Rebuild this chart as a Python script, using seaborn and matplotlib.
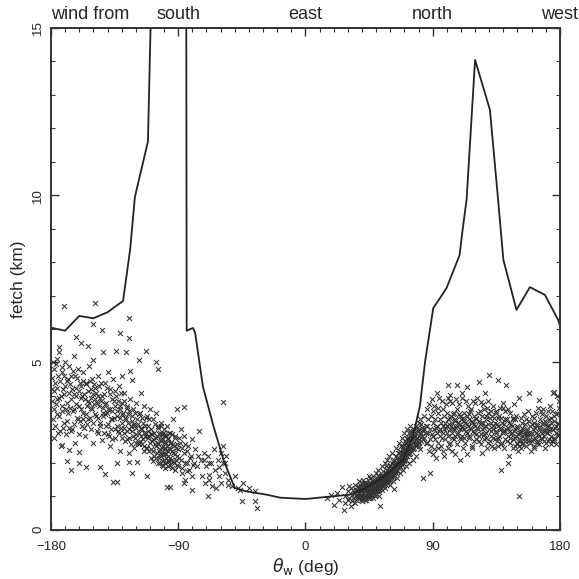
import numpy as np
import pandas as pd
import matplotlib
matplotlib.use("Agg")
import matplotlib.pyplot as plt
import matplotlib.transforms as mtransforms
from matplotlib.ticker import MultipleLocator
import seaborn as sns

# fetch along the shoreline as a function of wind direction
fetch_deg = [-180, -170, -160, -150, -140, -129, -124, -120.6, -111.4, -109, -100, -85, -84,
             -79.5, -78, -72.5, -65, -58, -50, -42, -27.5, -18, 0, 17, 31.5, 43, 57, 69, 76,
             81, 84.5, 90.4, 99.8, 109, 111.6, 114, 120, 130.5, 136.3, 140, 149.3, 158.8,
             169.4, 178.8, 180]
fetch_km = [6.04, 5.95, 6.39, 6.32, 6.5, 6.84, 8.37, 9.95, 11.6, 16.0, 40.0, 40.0, 5.95,
            6.03, 5.88, 4.28, 3.09, 2.09, 1.25, 1.15, 1.05, 0.96, 0.92, 0.99, 1.05, 1.25,
            1.64, 2.09, 2.79, 3.7, 4.98, 6.62, 7.22, 8.2, 9.1, 9.86, 14.04, 12.55, 9.86,
            8.07, 6.57, 7.25, 7.02, 6.27, 6.1]

# observed points, wind direction -> list of fetch values
south_cloud = {
    -179: [4.2], -178: [3.6, 4.8], -177: [3.1, 4.4], -176: [5.1, 3.9], -175: [2.9, 4.6],
    -174: [3.4, 5.3], -173: [4.0, 2.5], -172: [4.7, 3.7, 2.54], -171: [6.69, 3.2],
    -170: [4.3, 5.0], -169: [2.06, 3.8], -168: [4.5, 3.5], -167: [2.39, 4.9],
    -166: [1.79, 3.9], -165: [4.2, 3.0], -164: [5.2, 3.6], -163: [2.59, 4.6],
    -162: [5.75, 4.0], -161: [3.3, 4.8], -160: [2.31, 3.7, 1.99], -159: [5.58, 4.3],
    -158: [3.1, 4.0], -157: [4.7, 3.5], -156: [3.9, 2.8], -155: [1.89, 4.4],
    -154: [5.5, 3.3], -153: [3.8, 4.9], -152: [3.0, 4.2], -151: [3.6, 4.5],
    -150: [6.15, 5.08, 2.59], -149: [6.77, 3.9], -148: [4.1, 3.4], -147: [4.6, 2.9],
    -146: [3.7, 4.3], -145: [1.89, 3.2], -144: [5.98, 2.69, 4.0], -143: [5.31, 3.5],
    -142: [4.4, 1.67], -141: [3.8, 3.1], -140: [4.7, 3.6], -139: [2.8], -138: [2.49, 4.2],
    -137: [3.9, 3.3], -136: [1.44, 4.5], -135: [3.0, 3.7], -134: [5.35, 4.0],
    -133: [1.99, 3.4, 1.44], -132: [2.9, 4.3], -131: [5.88, 2.34, 3.6],
    -130: [3.8, 4.6, 3.2], -129: [3.5], -128: [2.9, 4.1], -127: [5.3, 3.3],
    -126: [3.7, 2.7], -125: [6.34, 5.73, 2.04, 3.0, 2.29], -124: [4.75, 3.9],
    -123: [4.48, 1.69, 3.4], -122: [2.8, 3.6], -121: [3.1], -120: [2.6, 3.8],
    -119: [2.04, 3.3], -118: [5.06, 2.9], -117: [2.64, 3.5], -116: [3.0, 4.1],
    -115: [2.7, 3.2], -114: [2.5, 3.7], -113: [5.33, 2.9], -112: [1.61, 2.44, 3.4],
    -111: [2.8, 3.1], -110: [2.6, 3.6], -109: [2.4, 3.0], -108: [2.7, 3.3],
    -107: [2.2, 2.9], -106: [2.5, 3.5, 5.0], -105: [2.8, 2.3], -104: [4.8, 3.1, 2.6],
    -103: [2.0, 2.9, 2.4], -102: [2.7, 3.2, 2.2], -101: [2.5, 2.9, 1.9],
    -100: [2.3, 2.6, 3.0, 2.1], -99: [2.4, 2.8, 2.0], -98: [1.29, 2.5, 3.1],
    -97: [2.2, 2.7, 1.9], -96: [1.29, 2.4, 2.9], -95: [2.1, 2.6], -94: [2.3, 3.3],
    -93: [2.0, 2.5], -92: [2.8, 1.8], -91: [2.2, 3.6], -90: [2.4, 1.9], -89: [2.6],
    -88: [2.1, 3.0], -87: [1.7], -86: [2.3, 2.8, 3.68, 1.39], -85: [1.5], -84: [2.0],
    -83: [2.5], -82: [1.8], -81: [2.2], -80: [1.6, 2.7, 1.2], -79: [2.0], -78: [2.4],
    -77: [1.9], -76: [2.2], -75: [2.94], -74: [2.1], -73: [1.6], -72: [2.3, 2.09],
    -71: [1.4], -70: [1.9], -69: [2.2, 1.0], -68: [1.5, 1.64, 1.99], -67: [2.0],
    -66: [1.3], -65: [2.4], -64: [1.8], -63: [1.25], -62: [2.1], -61: [1.6, 1.89],
    -60: [1.4, 2.3], -58: [3.83, 2.49, 2.0], -57: [1.7, 1.99], -56: [2.2],
    -55: [1.34, 1.5], -52: [1.3], -50: [1.6], -48: [1.25], -46: [1.2], -45: [0.85],
    -44: [1.4], -40: [1.25], -36: [0.85, 1.15], -34: [0.65],
}

# denser core of the southern cloud
south_core = {
    -179.5: [3.85, 4.55], -178.5: [3.3, 5.0], -177.5: [4.15, 2.75], -176.5: [3.75, 4.95],
    -175.5: [3.45, 4.25], -174.5: [3.95, 5.45], -173.5: [4.45, 2.95], -172.5: [3.55, 4.85],
    -171.5: [4.2, 3.05], -170.5: [4.05, 4.6], -169.5: [3.6, 2.85], -168.5: [4.45, 3.25],
    -167.5: [3.05, 4.1], -166.5: [3.65, 4.35], -165.5: [4.6, 2.95], -164.5: [3.55, 4.75],
    -163.5: [4.05, 3.15], -162.5: [3.75, 4.25], -161.5: [3.35, 4.55], -160.5: [4.15, 2.85],
    -159.5: [4.4, 3.25], -158.5: [3.6, 3.95], -157.5: [4.45, 3.3], -156.5: [3.05, 4.05],
    -155.5: [4.35, 3.45], -154.5: [3.7, 3.15], -153.5: [4.15, 3.85], -152.5: [3.35, 4.45],
    -151.5: [3.65, 3.95], -150.5: [4.05, 3.2], -149.5: [3.75, 4.35], -148.5: [3.45, 4.25],
    -147.5: [3.8, 2.95], -146.5: [3.35, 4.0], -145.5: [3.1, 3.95], -144.5: [3.85, 4.4],
    -143.5: [3.4, 3.65], -142.5: [4.05, 2.9], -141.5: [3.45, 3.75], -140.5: [4.25, 3.5],
    -139.5: [3.15, 2.85], -138.5: [3.6, 4.05], -137.5: [3.3, 3.0], -136.5: [3.55, 2.7],
    -135.5: [3.35, 3.85], -134.5: [4.15, 2.75], -133.5: [3.1, 3.55], -132.5: [3.85, 2.95],
    -131.5: [3.35, 3.7], -130.5: [3.05, 4.1], -129.5: [2.75, 3.45], -128.5: [3.05, 3.85],
    -127.5: [3.35, 2.65], -126.5: [2.95, 3.65], -125.5: [3.2, 3.45], -124.5: [2.75, 3.55],
    -123.5: [3.1, 2.55], -122.5: [2.95, 3.25], -121.5: [3.15, 2.45], -120.5: [2.75, 3.5],
    -119.5: [3.05, 2.85], -118.5: [2.6, 3.15], -117.5: [3.45, 2.55], -116.5: [3.05, 2.8],
    -115.5: [2.55, 3.35], -114.5: [2.9, 2.35], -113.5: [3.1, 2.8], -112.5: [2.45, 3.35],
    -111.5: [2.75, 2.95], -110.5: [2.35, 3.3], -109.5: [2.85, 2.15], -108.5: [2.65, 2.85],
    -107.5: [2.35, 2.05], -106.5: [2.55, 3.15], -105.5: [2.75, 2.15],
    -104.5: [2.55, 3.05, 2.0], -103.5: [2.35, 2.85, 2.15], -102.5: [2.65, 2.25, 3.1],
    -101.5: [2.45, 1.95, 2.85], -100.5: [2.25, 2.7, 2.05], -99.5: [2.45, 2.85, 1.85],
    -98.5: [2.25, 2.6, 2.15], -97.5: [2.35, 2.75, 2.05], -96.5: [2.45, 2.05, 2.9],
    -95.5: [2.15, 2.6, 1.95], -94.5: [2.35, 2.85, 1.85], -93.5: [2.55, 2.05],
    -92.5: [2.25, 2.75], -91.5: [2.45, 2.1], -90.5: [1.95, 2.55], -89.5: [2.15, 2.75],
    -87.5: [2.45, 1.85], -85.5: [2.0, 2.55], -83.5: [2.35, 1.75], -81.5: [2.15],
    -79.5: [1.95],
}

east_cloud = {
    15: [0.95], 18: [1.05], 20: [0.75], 22: [1.1], 24: [0.9], 26: [1.29], 27: [0.6],
    28: [1.0, 0.8], 30: [1.15, 0.9], 31: [0.95, 1.3], 32: [1.25, 0.7], 33: [1.05, 0.85],
    34: [1.2, 0.95], 35: [1.1, 1.35, 0.8], 36: [1.0, 1.2, 0.9], 37: [1.1, 1.3, 0.95],
    38: [1.0, 1.25, 1.45], 39: [1.15, 0.9, 1.3], 40: [1.0, 1.2, 1.4, 0.85],
    41: [1.1, 1.3, 0.95, 1.5], 42: [1.05, 1.25, 1.4, 0.9], 43: [1.29, 0.9, 1.15, 1.0],
    44: [1.1, 1.35, 0.95, 1.5], 45: [1.2, 1.0, 1.4, 1.6], 46: [1.15, 1.3, 0.95, 1.55],
    47: [1.25, 1.05, 1.45, 1.2], 48: [1.1, 1.35, 1.6, 0.95], 49: [1.3, 1.15, 1.5, 1.0],
    50: [1.25, 1.4, 1.05, 1.7], 51: [1.3, 1.5, 1.15, 1.8], 52: [1.2, 1.45, 1.6, 1.0],
    53: [1.35, 1.55, 0.7, 1.25], 54: [1.4, 1.2, 1.65, 1.9], 55: [1.39, 1.5, 1.3, 1.75],
    56: [1.45, 1.6, 1.25, 2.0], 57: [1.5, 1.7, 1.35, 1.9], 58: [1.55, 1.4, 1.8, 2.1],
    59: [1.6, 1.45, 1.85, 2.2], 60: [1.65, 1.5, 1.9, 1.35], 61: [1.7, 1.55, 2.0, 2.3],
    62: [1.75, 1.6, 2.05, 1.45], 63: [1.22, 1.8, 2.1, 1.65], 64: [1.85, 1.7, 2.2, 2.45],
    65: [1.9, 1.75, 2.15, 1.55], 66: [2.0, 1.85, 2.3, 2.6], 67: [2.09, 1.9, 2.35, 1.7],
    68: [2.1, 1.95, 2.4, 2.75], 69: [2.2, 2.0, 2.5, 1.8], 70: [2.25, 2.05, 2.55, 2.9],
    71: [2.3, 2.1, 2.6, 1.9], 72: [2.35, 2.2, 2.7, 3.0], 73: [2.4, 2.25, 2.75, 2.0],
    74: [2.5, 2.3, 2.8, 3.1], 75: [2.55, 2.35, 2.9], 76: [2.6, 2.4, 2.95, 2.1],
    77: [2.65, 2.45, 3.0], 78: [2.69, 2.5, 3.1, 2.2], 79: [2.75, 2.55, 3.05],
    80: [2.8, 2.6, 3.2], 81: [2.85, 2.4, 3.3], 82: [2.9, 2.65, 3.15],
    83: [1.54, 2.95, 2.7], 84: [3.0, 2.75, 3.4], 85: [2.89, 3.1, 2.6],
}

# darkest part of the band, 35-82 deg
east_core = {
    36.5: [1.05, 1.15], 37.5: [1.0, 1.2], 38.5: [1.1, 0.95, 1.35], 39.5: [1.05, 1.2],
    40.5: [1.1, 1.3, 0.95], 41.5: [1.2, 1.0, 1.4], 42.5: [1.15, 1.3, 1.0],
    43.5: [1.25, 1.1, 1.4], 44.5: [1.2, 1.05, 1.25], 45.5: [1.3, 1.1, 1.15],
    46.5: [1.25, 1.4, 1.05], 47.5: [1.35, 1.15, 1.3], 48.5: [1.25, 1.45, 1.2],
    49.5: [1.4, 1.2, 1.25], 50.5: [1.35, 1.15, 1.55], 51.5: [1.4, 1.6, 1.25],
    52.5: [1.35, 1.55, 1.3], 53.5: [1.45, 1.6, 1.4], 54.5: [1.5, 1.3, 1.55],
    55.5: [1.6, 1.45, 1.55], 56.5: [1.5, 1.7, 1.55], 57.5: [1.6, 1.45, 1.8],
    58.5: [1.65, 1.7, 1.5], 59.5: [1.75, 1.65, 1.95], 60.5: [1.8, 1.7, 1.6],
    61.5: [1.85, 1.75, 1.65], 62.5: [1.9, 1.85, 1.7], 63.5: [1.95, 1.75, 2.0],
    64.5: [2.0, 1.8, 1.95], 65.5: [2.05, 1.95, 2.3], 66.5: [2.15, 2.1, 1.95],
    67.5: [2.2, 2.0, 2.5], 68.5: [2.25, 2.3, 2.05], 69.5: [2.3, 2.4, 2.1],
    70.5: [2.4, 2.2, 2.65], 71.5: [2.45, 2.35, 2.75], 72.5: [2.5, 2.45, 2.25],
    73.5: [2.6, 2.5, 2.9], 74.5: [2.65, 2.4, 2.95], 75.5: [2.7, 2.45], 76.5: [2.75, 2.8],
    77.5: [2.8, 2.55], 78.5: [2.9, 2.6], 79.5: [2.95, 2.65], 80.5: [3.0, 2.5],
    82.5: [3.05, 2.8],
}

north_cloud = {
    86: [3.1, 2.6, 3.6], 87: [2.9, 3.3], 88: [1.69, 2.7, 3.0], 89: [3.4, 2.5],
    90: [2.8, 3.2], 91: [3.0, 2.4, 3.7], 92: [2.7, 3.3], 93: [4.08, 3.1, 2.9],
    94: [2.6, 3.5], 95: [3.0, 2.8, 3.3], 96: [3.2, 2.5], 97: [2.9, 3.6, 3.1],
    98: [2.19, 3.0, 3.4], 99: [2.7, 3.2], 100: [3.1, 2.9, 3.5], 101: [4.33, 2.8, 3.3],
    102: [4.03, 3.0, 2.6], 103: [3.4, 3.1], 104: [3.78, 2.9, 3.2], 105: [2.7, 3.5, 3.0],
    106: [3.3, 2.8], 107: [4.33, 3.1, 3.6], 108: [2.9, 3.2], 109: [2.09, 3.4, 3.0],
    110: [2.7, 3.3], 111: [4.08, 3.1, 2.8], 112: [3.5, 3.0], 113: [2.6, 3.2],
    114: [4.26, 3.4, 2.9], 115: [3.1, 3.7], 116: [2.8, 3.3], 117: [3.0, 3.6],
    118: [2.5, 3.2], 119: [3.4, 2.9], 120: [3.1, 3.8], 121: [2.7, 3.3], 122: [3.0, 3.5],
    123: [4.43, 2.8], 124: [3.83, 3.2], 125: [2.29, 3.0, 3.4], 126: [2.7, 3.6],
    127: [4.08, 3.1], 128: [2.9, 3.3], 129: [3.5, 2.6], 130: [4.63, 3.0], 131: [2.8, 3.2],
    132: [3.4, 2.5], 133: [3.0, 3.7], 134: [2.7, 3.2], 135: [2.9, 3.5],
    136: [4.48, 2.49, 3.1], 137: [2.8, 3.4], 138: [1.79, 3.0], 139: [2.6, 3.2],
    140: [3.63, 2.9], 141: [3.3, 2.7], 142: [4.33, 3.0], 143: [1.99, 2.8], 144: [2.19, 3.2],
    145: [2.6, 3.5], 146: [2.9, 3.1], 147: [2.7, 3.3], 148: [3.0, 2.5], 149: [2.8, 3.4],
    150: [2.6, 3.1], 151: [1.02, 2.49, 3.93], 152: [2.7, 2.9], 153: [2.8, 3.2],
    154: [2.6, 3.0], 155: [2.75, 2.9], 156: [3.3, 2.5], 157: [2.8, 3.0],
    158: [4.08, 2.69], 159: [3.1, 2.6], 160: [2.9, 3.4], 161: [2.7, 3.0], 162: [3.2, 2.5],
    163: [2.9, 3.5], 164: [2.6, 3.1], 165: [3.88, 2.8], 166: [3.0, 3.3], 167: [2.7, 2.9],
    168: [3.2, 3.6], 169: [2.8, 3.0], 170: [2.59, 3.4], 171: [2.9, 3.1], 172: [3.3, 2.7],
    173: [3.0, 3.7], 174: [2.8, 3.2], 175: [4.08, 3.0], 176: [4.13, 2.69, 3.4],
    177: [3.1, 2.9], 178: [3.5, 4.0], 179: [3.2, 2.8],
}

north_extra = {
    87.5: [2.35, 3.75], 89.5: [2.85, 3.9], 90.5: [2.25, 3.55], 92.5: [3.05, 2.15],
    93.5: [3.65, 2.45], 94.5: [2.95, 3.95], 96.5: [2.75, 3.85], 97.5: [2.35],
    99.5: [3.05, 3.75], 100.5: [2.45, 3.95], 101.5: [3.15, 2.55], 102.5: [3.35, 3.85],
    103.5: [2.75, 2.35], 104.5: [3.45, 3.05], 105.5: [3.25, 2.25], 106.5: [3.05, 3.9],
    107.5: [2.55, 2.85], 108.5: [3.45, 3.75], 109.5: [3.15, 2.75], 110.5: [3.05, 3.95],
    111.5: [3.35, 2.45], 112.5: [2.75, 3.25], 113.5: [3.85, 2.95], 114.5: [3.15, 2.25],
    115.5: [2.75, 3.45], 116.5: [3.55, 3.05], 117.5: [3.25, 2.45], 118.5: [2.95, 3.85],
    119.5: [3.15, 2.65], 120.5: [2.85, 3.35], 121.5: [3.05, 3.95], 122.5: [2.65, 3.25],
    123.5: [3.15, 3.55], 124.5: [2.85, 2.55], 125.5: [3.2, 3.75], 126.5: [3.05, 2.85],
    127.5: [2.75, 3.4], 128.5: [3.65, 2.45], 129.5: [3.15, 3.85], 130.5: [2.65, 3.35],
    131.5: [3.55, 2.95], 132.5: [3.1, 2.75], 133.5: [2.45, 3.35], 134.5: [3.55, 2.95],
    135.5: [2.65, 3.15], 136.5: [3.35, 2.75], 137.5: [3.05, 3.65], 138.5: [2.55, 3.35],
    139.5: [2.95, 3.8], 140.5: [3.15, 2.45], 141.5: [2.95, 3.55], 142.5: [2.65, 3.3],
    143.5: [3.05, 3.6], 144.5: [2.75, 2.95], 145.5: [2.85, 3.15], 146.5: [3.35, 2.45],
    147.5: [2.95, 3.75], 148.5: [2.75, 3.3], 149.5: [2.55, 3.05], 150.5: [2.85, 2.35],
    151.5: [2.65, 2.95], 152.5: [3.35, 2.45], 153.5: [2.55, 3.05], 154.5: [2.85, 3.45],
    155.5: [2.65, 3.15], 156.5: [2.85, 2.95], 157.5: [2.65, 3.55], 158.5: [2.85, 3.25],
    159.5: [2.85, 2.35], 160.5: [2.65, 3.15], 161.5: [3.35, 2.45], 162.5: [2.75, 3.05],
    163.5: [2.65, 3.15], 164.5: [2.85, 3.65], 165.5: [3.05, 2.55], 166.5: [2.75, 3.55],
    167.5: [3.15, 3.45], 168.5: [2.65, 2.95], 169.5: [3.25, 2.45], 170.5: [2.95, 3.15],
    171.5: [2.65, 3.55], 172.5: [2.95, 3.1], 173.5: [2.55, 3.35], 174.5: [3.55, 2.65],
    175.5: [2.75, 3.25], 176.5: [3.05], 177.5: [3.45, 2.55], 178.5: [2.85, 3.15],
    179.5: [3.65, 3.85],
}

direction_labels = ["south", "east", "north", "west"]
direction_deg = [-90, 0, 90, 180]

rows = []
for cloud in (south_cloud, south_core, east_cloud, east_core, north_cloud, north_extra):
    for deg, vals in cloud.items():
        for v in vals:
            rows.append((deg, v))
obs = pd.DataFrame(rows, columns=["theta", "fetch"])
line_df = pd.DataFrame({"theta": fetch_deg, "fetch": fetch_km})

sns.set_style("ticks", {"xtick.direction": "in", "ytick.direction": "in"})
plt.rcParams["font.family"] = ["Liberation Sans", "DejaVu Sans"]

fig = plt.figure(figsize=(5.79, 5.79), dpi=100)
ax = fig.add_axes([0.088, 0.085, 0.879, 0.867])

sns.scatterplot(data=obs, x="theta", y="fetch", marker="x", s=13, color="#333333",
                linewidth=0.75, ax=ax, legend=False)
sns.lineplot(data=line_df, x="theta", y="fetch", color="#222222", linewidth=1.3,
             sort=False, estimator=None, ax=ax)

ax.set_xlim(-180, 180)
ax.set_ylim(0, 15)
ax.xaxis.set_major_locator(MultipleLocator(90))
ax.xaxis.set_minor_locator(MultipleLocator(10))
ax.yaxis.set_major_locator(MultipleLocator(5))
ax.yaxis.set_minor_locator(MultipleLocator(1))
ax.tick_params(which="both", top=True, right=True, direction="in", color="#333333")
ax.tick_params(which="major", length=6, width=1, labelsize=9.5)
ax.tick_params(axis="x", which="major", pad=8)
ax.tick_params(axis="y", which="major", pad=5)
ax.tick_params(which="minor", length=3, width=0.8)
for lab in ax.get_yticklabels():
    lab.set_rotation(90)
    lab.set_va("center")
for sp in ax.spines.values():
    sp.set_linewidth(1.4)
    sp.set_color("#333333")

ax.set_xlabel(r"$\theta_{\rm w}$ (deg)", fontsize=12.5, labelpad=2)
ax.set_ylabel("fetch (km)", fontsize=12.5, labelpad=4)

trans = mtransforms.blended_transform_factory(ax.transData, ax.transAxes)
ax.text(-180, 1.01, "wind from", transform=trans, ha="left", va="bottom", fontsize=13)
for lab, d in zip(direction_labels, direction_deg):
    ax.text(d, 1.01, lab, transform=trans, ha="center", va="bottom", fontsize=13)

fig.savefig("out.png", dpi=100)
